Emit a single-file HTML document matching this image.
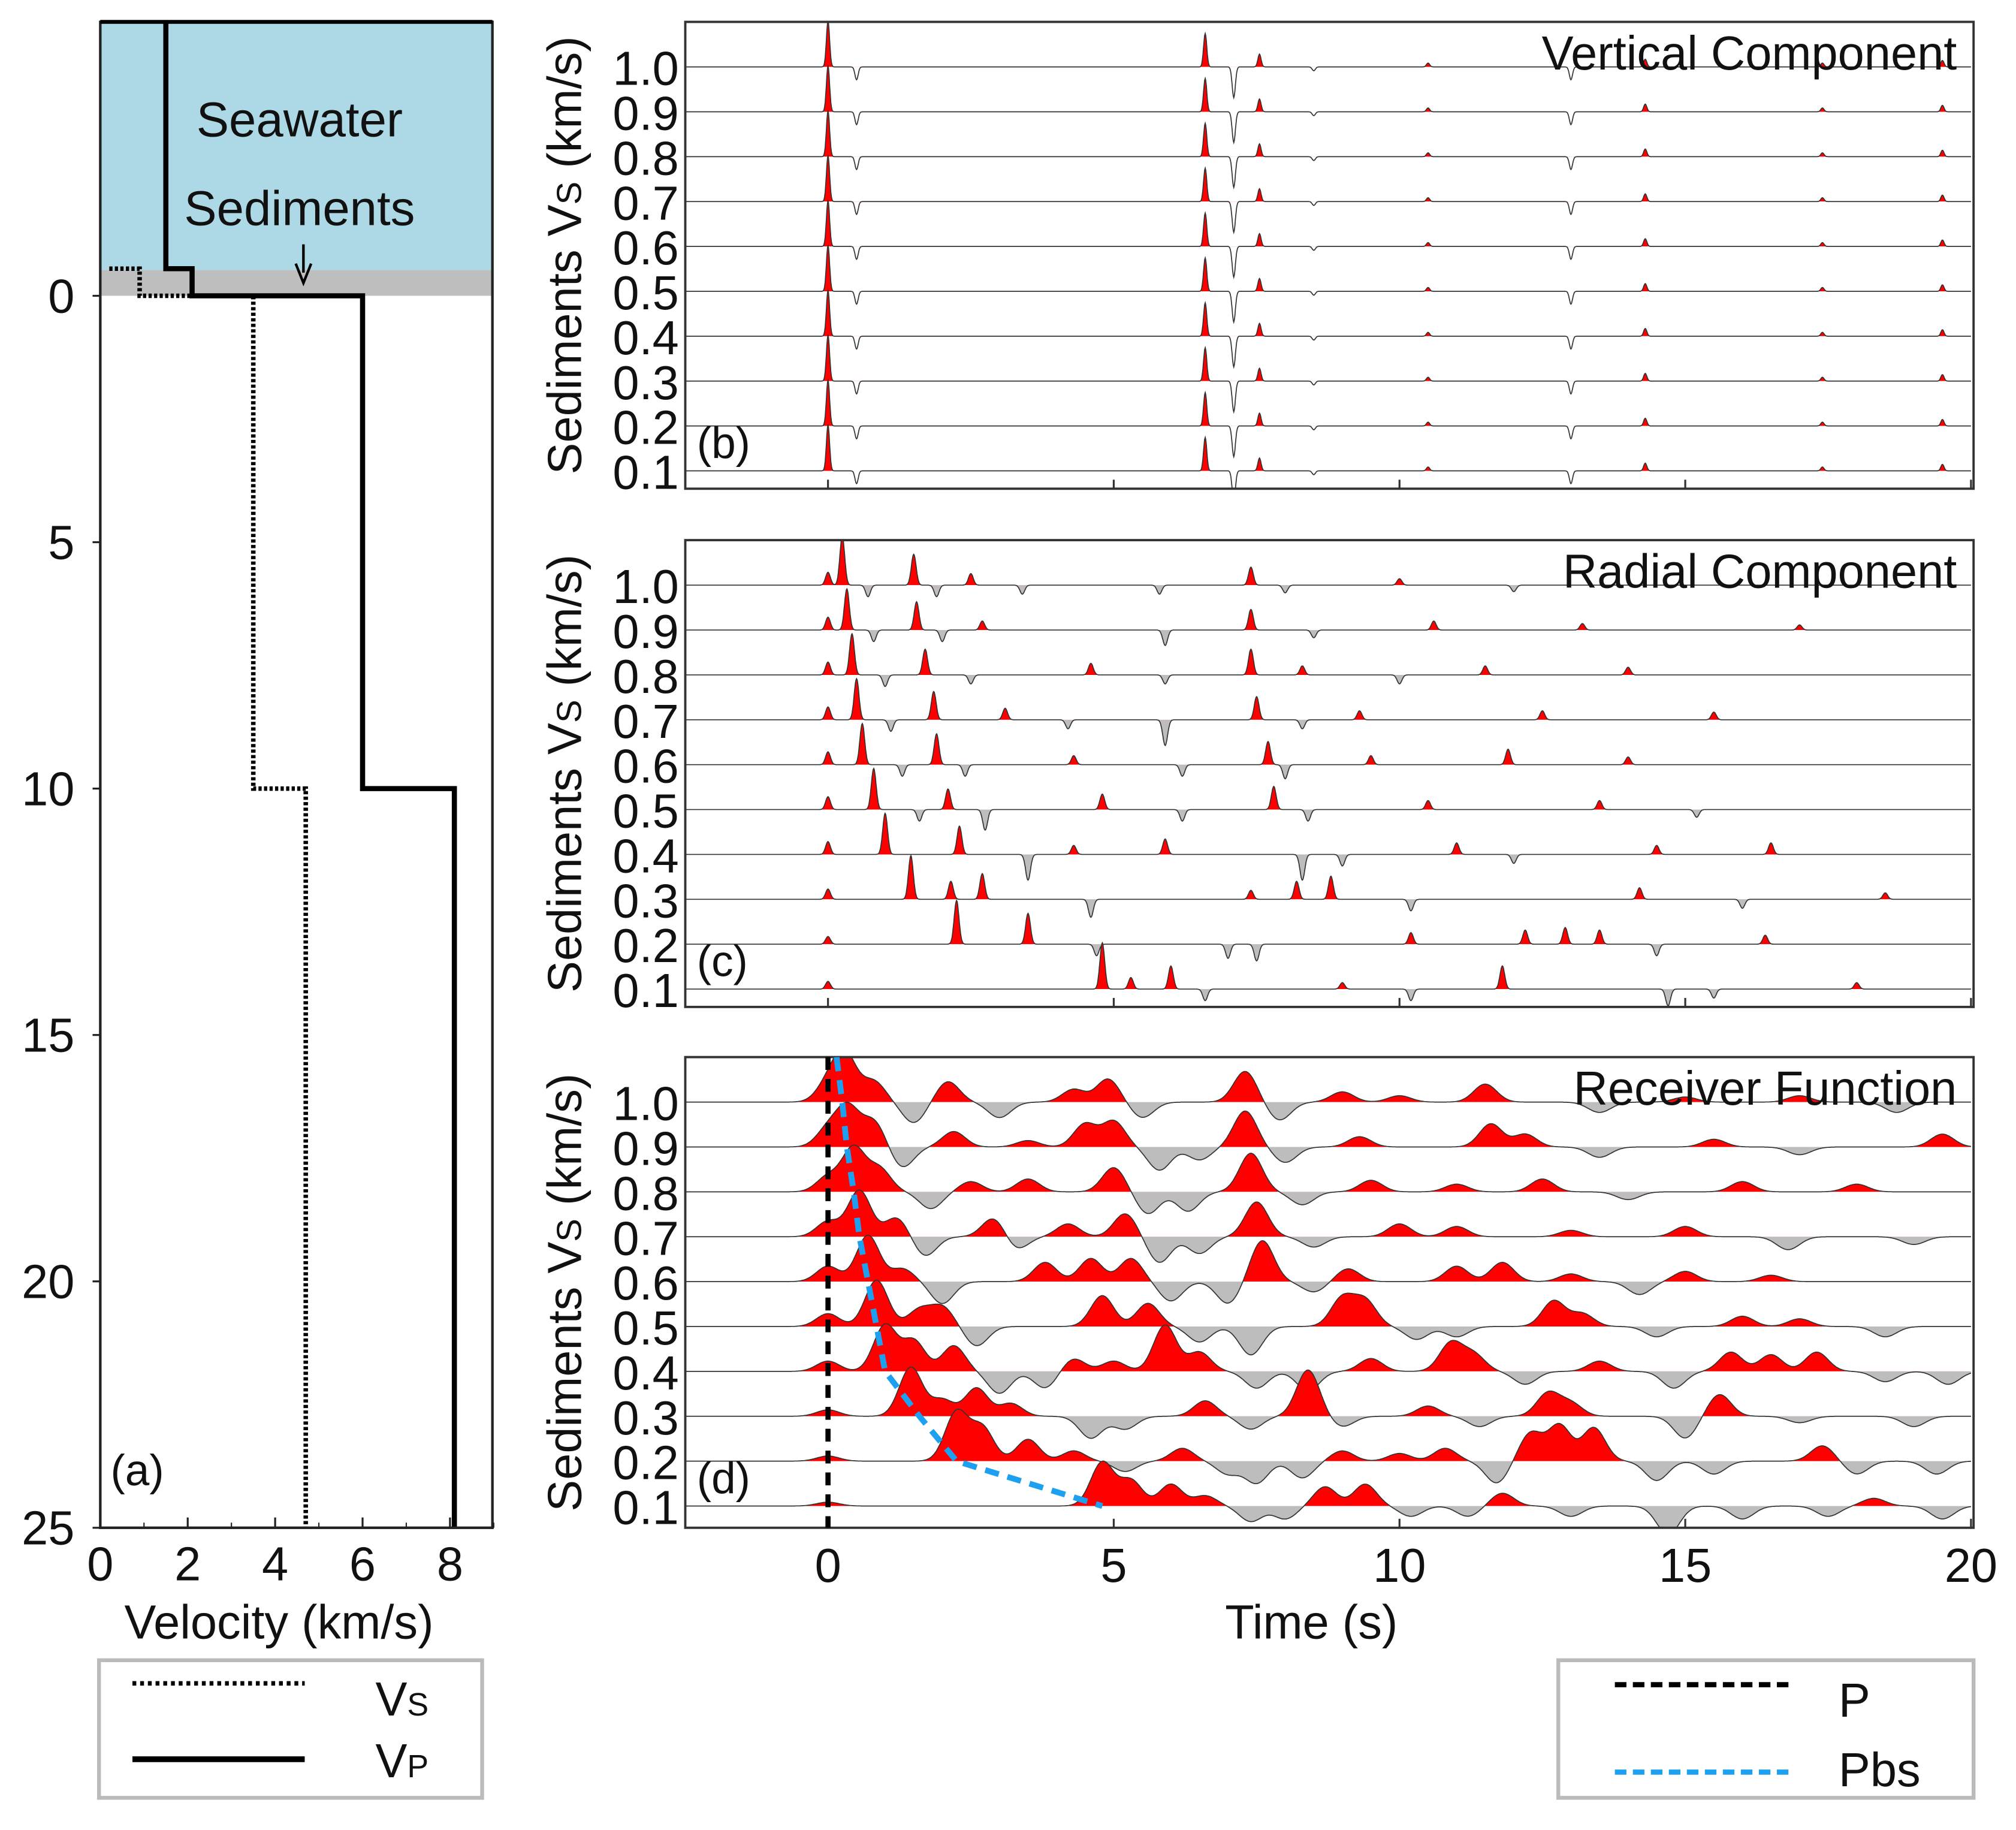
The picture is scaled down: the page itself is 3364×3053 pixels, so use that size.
<!DOCTYPE html>
<html><head><meta charset="utf-8"><style>
html,body{margin:0;padding:0;background:#fff}
svg{display:block}
text{font-family:"Liberation Sans",Arial,sans-serif;fill:#111}
</style></head><body>
<svg id="fig" width="3364" height="3053" viewBox="0 0 1568 1423" xmlns="http://www.w3.org/2000/svg">
<defs>
<clipPath id="clipB"><rect x="533" y="17" width="1002" height="363"/></clipPath>
<clipPath id="clipC"><rect x="533" y="420" width="1002" height="363"/></clipPath>
<clipPath id="clipD"><rect x="533" y="822" width="1002" height="366"/></clipPath>
</defs>
<g id="panelA"></g>
<g id="panelB"></g>
<g id="panelC"></g>
<g id="panelD"></g>
<g id="legends"></g>
</svg>
<script>
const NS="http://www.w3.org/2000/svg";
// ---------- data ----------
const vsLabels=["1.0","0.9","0.8","0.7","0.6","0.5","0.4","0.3","0.2","0.1"];
const depthTicks=[0,5,10,15,20,25];
const velTicks=[0,2,4,6,8];
const timeTicks=[0,5,10,15,20];
// velocity model layers: [topDepth, bottomDepth, value]
const vpLayers=[[-5.55,-0.55,1.5],[-0.55,0,2.1],[0,10,6.0],[10,25,8.1]];
const vsLayers=[[-0.55,0,0.9],[0,10,3.5],[10,25,4.7]];
// vertical component peaks [time, amplitude]
const vertPeaks=[[0,36],[0.5,-10],[6.6,26],[7.1,-24],[7.55,10],[8.5,-3],[10.5,3],[13,-10],[14.3,6],[17.4,3],[19.5,5]];
// radial component peaks per trace
const radPeaks=[
[[0,10],[0.25,38],[0.7,-9],[1.5,24],[1.9,-9],[2.5,9],[3.4,-7],[5.8,-7],[7.4,14],[8,-6],[10,5],[12,-5]],
[[0,10],[0.33,32],[0.8,-9],[1.55,22],[2.0,-9],[2.7,7],[5.9,-12],[7.4,16],[8.5,-6],[10.6,7],[13.2,5],[17,4]],
[[0,10],[0.42,32],[1.0,-9],[1.7,20],[2.5,-7],[4.6,9],[5.9,-7],[7.4,20],[8.3,7],[10,-7],[11.5,7],[14,6]],
[[0,10],[0.5,32],[1.1,-9],[1.85,22],[3.1,9],[4.2,-7],[5.9,-20],[7.5,18],[8.3,-7],[9.3,7],[12.5,7],[15.5,6]],
[[0,10],[0.6,32],[1.3,-9],[1.9,24],[2.4,-9],[4.3,7],[6.2,-9],[7.7,18],[8,-11],[9.5,7],[11.9,12],[14,6]],
[[0,10],[0.8,32],[1.6,-9],[2.1,16],[2.75,-16],[4.8,12],[6.2,-9],[7.8,18],[8.4,-9],[10.5,7],[13.5,7],[15.2,-6]],
[[0,10],[1.0,32],[2.3,22],[3.5,-20],[4.3,7],[5.9,12],[8.3,-20],[9,-9],[11,9],[12,-7],[14.5,7],[16.5,9]],
[[0,8],[1.45,34],[2.15,14],[2.7,20],[4.6,-14],[7.4,7],[8.2,14],[8.8,18],[10.2,-9],[14.2,9],[16,-7],[18.5,5]],
[[0,6],[2.25,34],[3.5,24],[4.7,-9],[7,-11],[7.5,-13],[10.2,9],[12.2,11],[12.9,13],[13.5,11],[14.5,-9],[16.4,7]],
[[0,6],[4.8,36],[5.3,9],[6.0,18],[6.6,-9],[9,5],[10.2,-9],[11.8,18],[14.7,-13],[15.5,-7],[18,5]]
];
// receiver function peaks per trace
const rfPeaks=[
[[0,14],[0.3,36],[0.8,16],[1.5,-16],[2.1,16],[3,-12],[4.3,10],[4.9,18],[5.5,-12],[7.3,24],[7.9,-14],[9,8],[10,5],[11.5,14],[13.5,-8],[15,4],[17,5],[18.7,-8]],
[[0,14],[0.35,30],[0.8,20],[1.3,-16],[2.2,12],[3.5,5],[4.5,18],[5,20],[5.8,-18],[6.5,-10],[7.3,28],[8,-12],[9.3,8],[11.6,18],[12.2,10],[13.5,-8],[15.5,6],[17,-6],[19.5,10]],
[[0,12],[0.45,34],[0.9,18],[1.8,-13],[2.5,8],[3.5,10],[5,19],[5.6,-17],[6.3,-15],[7.4,30],[8.3,-10],[9.5,9],[11,6],[12.5,10],[14,-6],[16,8],[18,6]],
[[0,12],[0.55,36],[1.2,15],[1.7,-15],[2.9,15],[3.3,-10],[4.2,10],[5.2,18],[5.8,-20],[6.5,-13],[7.5,27],[8.5,-8],[10,10],[11,8],[13,5],[15,8],[16.8,-10],[19,-6]],
[[0,12],[0.7,36],[1.3,10],[2,-17],[3.8,15],[4.6,18],[5.3,18],[6,-15],[7,-17],[7.6,32],[8.5,-8],[9.1,10],[11,12],[11.8,15],[13,6],[14.2,-10],[15,8],[16.5,5]],
[[0,10],[0.85,36],[1.6,13],[2,15],[2.6,-15],[4.8,24],[5.6,18],[6.5,-12],[7.4,-22],[9.0,22],[9.4,20],[10.3,-10],[11,-8],[12.7,20],[13.2,10],[14.5,-8],[16,8],[17,6],[18.5,-8]],
[[0,8],[1.0,36],[1.5,24],[2.2,20],[3,-17],[3.8,-13],[4.3,10],[5,8],[5.9,36],[6.5,15],[7.5,-13],[8.4,-15],[9.5,10],[10.9,22],[11.3,13],[12.2,-10],[13.5,8],[14.8,-13],[15.8,15],[16.5,13],[17.3,15],[18.5,-8],[19.6,-10]],
[[0,5],[1.45,38],[2.0,13],[2.6,22],[3.2,10],[4.6,-17],[5.2,-10],[6.6,12],[7.4,-10],[8.4,36],[9,-8],[10.5,8],[11.4,-8],[12.6,18],[13,10],[15,-17],[15.6,17],[17,-5],[19,-8]],
[[0,4],[2.25,38],[2.7,26],[3.5,17],[4.3,8],[5.2,-8],[6.2,10],[7,-10],[7.5,-17],[8.3,-13],[9,8],[10,6],[10.8,10],[11.7,-17],[12.3,22],[12.8,28],[13.4,26],[14.5,-15],[15.5,-10],[17.4,12],[18,-10],[19.4,-10]],
[[0,3],[4.8,34],[5.3,20],[6,17],[6.6,8],[7.4,-12],[8,-10],[8.7,15],[9.4,17],[10.2,-8],[11.2,-8],[11.8,10],[13,-8],[14.7,-22],[16,-10],[17.5,-8],[18.3,6],[19.5,-10]]
];
// Pbs arrival times per trace
const pbsTimes=[0.25,0.33,0.45,0.55,0.7,0.85,1.0,1.6,2.25,4.8];

// ---------- helpers ----------
function el(tag,attrs,parent,txt){const e=document.createElementNS(NS,tag);for(const k in attrs)e.setAttribute(k,attrs[k]);if(txt!==undefined)e.textContent=txt;parent.appendChild(e);return e;}
const tX=t=>644+t*44.45;
const dY=d=>230+d*38.32;
const vX=v=>78+v*34.0;

// ---------- panel A ----------
const A=document.getElementById('panelA');
let r=el('rect',{x:78,y:17,width:305,height:193,fill:'#add8e6'},A);

r=el('rect',{x:78,y:210,width:305,height:20,fill:'#bebebe'},A);

function stepPath(layers){let d='';layers.forEach((L,i)=>{const x=vX(L[2]);d+=(i===0?'M':'L')+x+' '+dY(L[0])+' L'+x+' '+dY(L[1])+' ';});return d;}
let p=el('path',{d:stepPath(vpLayers),fill:'none',stroke:'#000','stroke-width':4},A);

p=el('path',{d:'M85 '+dY(-0.55)+' L'+vX(0.9)+' '+dY(-0.55)+' '+stepPath(vsLayers).replace(/^M/,'L'),fill:'none',stroke:'#000','stroke-width':3.5,'stroke-dasharray':'2.5 1.8'},A);

r=el('rect',{x:78,y:17,width:305,height:1171,fill:'none',stroke:'#222','stroke-width':2},A);

el('line',{x1:78,y1:17,x2:383,y2:17,stroke:'#000','stroke-width':3},A);
let t=el('text',{x:233,y:106,'font-size':38,'text-anchor':'middle'},A,'Seawater');

t=el('text',{x:233,y:175,'font-size':38,'text-anchor':'middle'},A,'Sediments');

el('line',{x1:236,y1:190,x2:236,y2:212,stroke:'#000','stroke-width':2},A);
el('path',{d:'M230 205 L236 220 L242 205',fill:'none',stroke:'#000','stroke-width':2},A);
depthTicks.forEach(d=>{
  el('line',{x1:72,y1:dY(d),x2:78,y2:dY(d),stroke:'#222','stroke-width':1.5},A);
  const tt=el('text',{x:58,y:dY(d)+13,'font-size':37,'text-anchor':'end'},A,String(d));
  
});
velTicks.forEach(v=>{
  el('line',{x1:vX(v),y1:1188,x2:vX(v),y2:1180,stroke:'#222','stroke-width':1.5},A);
  el('line',{x1:vX(v+1),y1:1188,x2:vX(v+1),y2:1184,stroke:'#222','stroke-width':1},A);
  const tt=el('text',{x:vX(v),y:1229,'font-size':37,'text-anchor':'middle'},A,String(v));
  
});
t=el('text',{x:217,y:1274,'font-size':37,'text-anchor':'middle'},A,'Velocity (km/s)');

t=el('text',{x:86,y:1155,'font-size':34},A,'(a)');


// ---------- trace panels ----------
function buildPanel(G,clip,top,base0,title,letter,peaks,width,fills,showX){
  const bot=top+(base0===857?366:363);
  const gT=el('g',{'clip-path':'url(#'+clip+')'},G);
  for(let i=0;i<10;i++){
    const base=base0+i*34.9;
    const pk=peaks(i);
    let pts=[];
    for(let tt=-2.5;tt<=20.001;tt+=0.01){
      let a=0;pk.forEach(q=>{const w=q[2]||width;a+=q[1]*Math.exp(-0.5*((tt-q[0])/w)**2);});
      pts.push([tX(tt),base-a]);
    }
    const line='M'+pts.map(q=>q[0].toFixed(1)+' '+q[1].toFixed(1)).join(' L');
    const area=line+' L'+tX(20)+' '+base+' L'+tX(-2.5)+' '+base+' Z';
    const cpU='cu'+clip+i, cpD='cd'+clip+i;
    const defs=document.querySelector('defs');
    const c1=el('clipPath',{id:cpU},defs);el('rect',{x:0,y:0,width:1568,height:base},c1);
    const c2=el('clipPath',{id:cpD},defs);el('rect',{x:0,y:base,width:1568,height:500},c2);
    const g=el('g',{},gT);
    
    
    el('path',{d:area,fill:'#ff0000','clip-path':'url(#'+cpU+')'},g);
    if(fills)el('path',{d:area,fill:'#bdbdbd','clip-path':'url(#'+cpD+')'},g);
    el('path',{d:line,fill:'none',stroke:'#333','stroke-width':0.8},g);
    const lab=el('text',{x:528,y:base+14,'font-size':37,'text-anchor':'end'},G,vsLabels[i]);
    
    
  }
  const fr=el('rect',{x:533,y:top,width:1002,height:bot-top,fill:'none',stroke:'#333','stroke-width':1.8},G);
  
  timeTicks.forEach(v=>{el('line',{x1:tX(v),y1:bot,x2:tX(v),y2:bot-7,stroke:'#333','stroke-width':1.5},G);
    if(showX){const tl=el('text',{x:tX(v),y:bot+42,'font-size':37,'text-anchor':'middle'},G,String(v));
      }});
  const tt=el('text',{x:1522,y:top+37,'font-size':37,'text-anchor':'end'},G,title);
  
  const lt=el('text',{x:542,y:base0+9*34.9-10,'font-size':34},G,'('+letter+')');
  
  const yl=el('text',{transform:'translate(452,'+(top+bot)/2+') rotate(-90)','font-size':37,'text-anchor':'middle'},G);
  
  el('tspan',{},yl,'Sediments V');el('tspan',{'font-size':27},yl,'S');el('tspan',{},yl,' (km/s)');
}
buildPanel(document.getElementById('panelB'),'clipB',17,52,'Vertical Component','b',()=>vertPeaks,0.028,false,false);
buildPanel(document.getElementById('panelC'),'clipC',420,455,'Radial Component','c',i=>radPeaks[i],0.042,true,false);
const D=document.getElementById('panelD');
buildPanel(D,'clipD',822,857,'Receiver Function','d',i=>rfPeaks[i],0.2,true,true);
let tl=el('text',{x:1020,y:1274,'font-size':37,'text-anchor':'middle'},D,'Time (s)');

let pl=el('line',{x1:tX(0),y1:822,x2:tX(0),y2:1188,stroke:'#000','stroke-width':4,'stroke-dasharray':'10 7'},D);

let pd='M'+tX(pbsTimes[0]-0.1)+' 822';
pbsTimes.forEach((v,i)=>{pd+=' L'+tX(v)+' '+(857+i*34.9);});
const gcl=el('g',{'clip-path':'url(#clipD)'},D);
pl=el('path',{d:pd,fill:'none',stroke:'#1ea0f0','stroke-width':4.5,'stroke-dasharray':'11 7'},gcl);


// ---------- legends ----------
const L=document.getElementById('legends');
let lb=el('rect',{x:77,y:1291,width:298,height:107,fill:'none',stroke:'#bbb','stroke-width':3},L);

el('line',{x1:103,y1:1309,x2:237,y2:1309,stroke:'#000','stroke-width':3.5,'stroke-dasharray':'3 3'},L);
el('line',{x1:103,y1:1368,x2:237,y2:1368,stroke:'#000','stroke-width':4.5},L);
let lt=el('text',{x:292,y:1334,'font-size':37},L);
el('tspan',{},lt,'V');el('tspan',{'font-size':25},lt,'S');
lt=el('text',{x:292,y:1382,'font-size':37},L);
el('tspan',{},lt,'V');el('tspan',{'font-size':25},lt,'P');
lb=el('rect',{x:1212,y:1291,width:323,height:107,fill:'none',stroke:'#bbb','stroke-width':3},L);

el('line',{x1:1256,y1:1310,x2:1391,y2:1310,stroke:'#000','stroke-width':4,'stroke-dasharray':'9 5'},L);
el('line',{x1:1256,y1:1378,x2:1391,y2:1378,stroke:'#1ea0f0','stroke-width':4,'stroke-dasharray':'9 5'},L);
lt=el('text',{x:1430,y:1335,'font-size':37},L,'P');
lt=el('text',{x:1430,y:1389,'font-size':37},L,'Pbs');
</script>
</body></html>
